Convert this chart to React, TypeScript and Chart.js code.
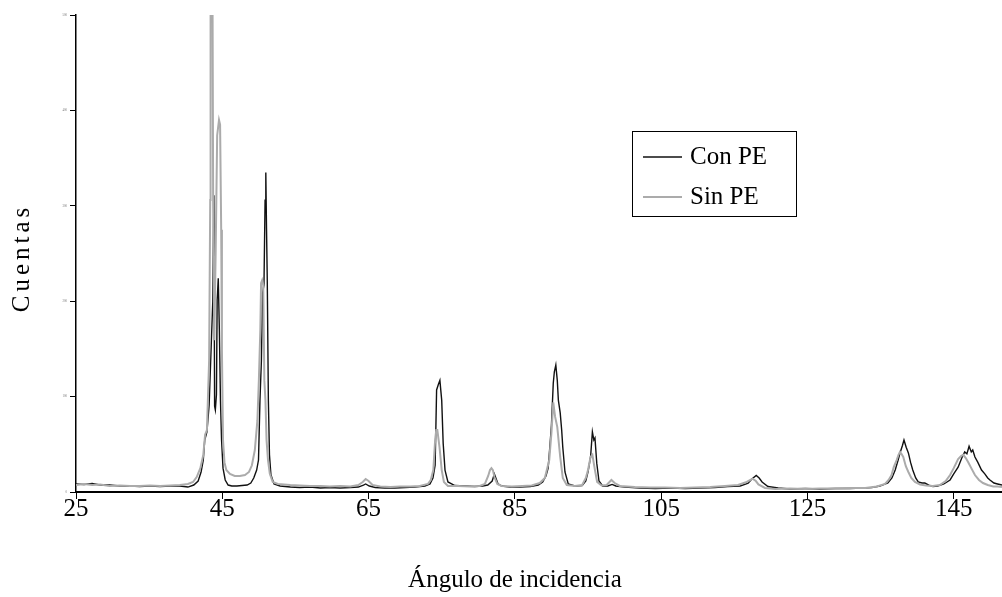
import React, { useEffect, useRef } from 'react';
import { Chart, registerables } from 'chart.js';

Chart.register(...registerables);

// ---- data (angle in degrees, counts in arbitrary units) ----
const conAngle = [
  25.0, 26.1, 27.2, 28.3, 29.6, 31.0, 32.4, 33.7, 35.1, 36.5, 37.9, 39.2, 40.3, 41.1, 41.7, 42.1, 42.4, 42.6, 42.9, 43.2,
  43.7, 43.85, 43.95, 44.05, 44.2, 44.3, 44.45, 44.6, 44.75, 44.9, 45.1, 45.4, 45.8, 46.3, 47.0, 47.7, 48.4, 48.9, 49.3, 49.7,
  49.95, 50.15, 50.35, 50.5, 50.7, 50.85, 50.95, 51.05, 51.15, 51.3, 51.45, 51.65, 52.07, 52.9, 54.3, 55.6, 57.0, 58.4, 59.7, 61.1,
  62.5, 63.6, 64.3, 64.6, 65.1, 65.9, 67.2, 68.6, 70.0, 71.3, 72.7, 73.4, 73.8, 74.1, 74.3, 74.55, 74.75, 75.0, 75.2, 75.45,
  75.85, 76.8, 78.2, 79.5, 80.6, 81.3, 81.9, 82.2, 82.4, 82.7, 83.2, 84.3, 85.7, 87.1, 88.2, 88.8, 89.25, 89.55, 89.8, 90.0,
  90.25, 90.4, 90.6, 90.8, 90.95, 91.2, 91.4, 91.55, 91.85, 92.3, 93.2, 94.2, 94.7, 95.0, 95.35, 95.6, 95.8, 95.95, 96.2, 96.5,
  97.0, 97.7, 98.3, 98.8, 100.05, 102.1, 104.2, 106.2, 108.3, 110.3, 112.35, 114.1, 115.8, 116.9, 117.4, 118.0, 118.4, 118.8, 119.6, 121.0,
  122.6, 124.7, 126.7, 128.8, 130.8, 132.5, 133.8, 134.9, 136.0, 136.55, 137.0, 137.4, 137.7, 138.0, 138.2, 138.5, 138.8, 139.1, 139.4, 139.8,
  140.15, 140.65, 141.05, 141.6, 142.15, 142.8, 143.65, 144.5, 145.0, 145.6, 146.1, 146.5, 146.8, 147.1, 147.4, 147.6, 147.9, 148.3, 148.8, 149.25,
  149.65, 149.95, 150.5, 151.0, 151.6,
];
const conCounts = [
  8.4, 7.9, 8.9, 7.3, 7.3, 6.3, 6.3, 5.8, 6.3, 5.8, 6.3, 6.3, 5.2, 7.3, 11.5, 21, 33.5, 54.5, 63, 91,
  200, 311, 90, 86, 102, 201, 224, 170, 96, 54.5, 25, 12.6, 7.3, 6.3, 6.3, 6.8, 7.3, 9.4, 14.7, 23,
  33.5, 96, 138, 208, 217, 306, 335, 275, 222, 96, 39, 18, 8.4, 6.3, 5.2, 4.7, 5.2, 4.2, 4.7, 4.2,
  4.7, 5.2, 7.3, 8.4, 6.3, 4.7, 4.2, 4.2, 4.7, 5.2, 6.3, 8.4, 14.7, 28, 107, 113, 117, 96, 51, 23,
  10.5, 6.8, 6.3, 5.8, 6.3, 7.3, 11.5, 19, 14.7, 8.4, 6.3, 5.2, 5.2, 5.8, 7.3, 10.5, 16.8, 25, 49, 70,
  114, 126, 133, 117, 96, 83, 65, 47, 21, 8.4, 6.3, 6.8, 11.5, 21, 36.7, 63, 54.5, 56.6, 30, 11.5,
  6.3, 6.3, 7.9, 6.3, 5.2, 4.2, 3.7, 4.2, 3.7, 4.2, 4.7, 5.8, 6.3, 9.4, 13.6, 17.3, 14.7, 10.5, 5.8, 4.2,
  3.1, 3.7, 3.1, 3.7, 3.7, 4.2, 4.7, 6.3, 9.4, 14.7, 23, 33.5, 42, 49, 54.5, 47, 41, 31, 23, 14.7,
  10.5, 9.4, 9.4, 7.3, 5.8, 6.3, 8.4, 12.6, 19, 26, 35.6, 42, 40, 48, 42, 44, 36.7, 31, 23, 19,
  14.7, 12.6, 9.4, 8.4, 7.3,
];

const sinAngle = [
  25.0, 26.1, 27.2, 28.3, 29.6, 31.0, 32.4, 33.7, 35.1, 36.5, 37.9, 39.2, 40.3, 41.0, 41.5, 42.0, 42.4, 42.65, 42.9, 43.2,
  43.35, 43.4, 43.65, 43.75, 43.9, 44.1, 44.3, 44.55, 44.7, 44.85, 44.95, 45.1, 45.3, 45.55, 46.05, 46.7, 47.4, 48.1, 48.65, 49.05,
  49.45, 49.8, 50.0, 50.2, 50.3, 50.45, 50.6, 50.75, 50.9, 51.05, 51.25, 51.5, 51.9, 52.6, 54.3, 55.6, 57.0, 58.4, 59.7, 61.1,
  62.5, 63.6, 64.2, 64.6, 65.0, 65.55, 66.6, 68.0, 69.3, 70.7, 72.0, 73.1, 73.5, 73.85, 74.1, 74.25, 74.4, 74.7, 75.0, 75.3,
  75.85, 77.2, 78.9, 80.2, 80.9, 81.35, 81.6, 81.8, 82.0, 82.2, 82.6, 83.2, 84.6, 86.0, 87.3, 88.4, 89.1, 89.7, 90.0, 90.25,
  90.5, 90.8, 91.2, 91.55, 92.1, 93.2, 94.2, 94.7, 95.0, 95.35, 95.6, 95.95, 96.25, 96.85, 97.55, 98.2, 98.65, 99.35, 101.4, 103.5,
  105.5, 107.6, 109.6, 111.7, 113.7, 115.5, 116.7, 117.5, 117.95, 118.3, 119.2, 120.6, 122.6, 124.7, 126.7, 128.8, 130.8, 132.9, 134.5, 135.6,
  136.1, 136.5, 136.8, 137.2, 137.45, 137.65, 137.85, 138.1, 138.45, 138.8, 139.2, 139.7, 140.4, 141.2, 142.15, 143.1, 143.9, 144.5, 145.0, 145.6,
  146.0, 146.3, 146.65, 147.0, 147.4, 147.9, 148.45, 149.0, 149.65, 150.4, 151.0, 151.6,
];
const sinCounts = [
  7.3, 8.4, 7.3, 7.9, 6.3, 6.8, 6.3, 6.3, 6.8, 6.3, 6.8, 7.3, 8.4, 10.5, 15.7, 25, 38.8, 60, 65, 138,
  306, 560, 560, 306, 159, 254, 374, 390, 385, 275, 149, 54.5, 31, 23, 19, 16.8, 16.8, 17.8, 21, 28,
  44, 75, 117, 170, 219, 222, 217, 117, 96, 54.5, 33.5, 19, 10.5, 8.4, 7.3, 6.8, 6.3, 6.3, 5.8, 6.3,
  5.8, 7.3, 10.5, 13.6, 11.5, 7.3, 5.8, 5.2, 5.8, 5.8, 6.3, 8.4, 12.6, 23, 54.5, 65, 65, 47, 23, 10.5,
  6.3, 6.3, 5.8, 6.3, 8.4, 16.8, 23, 25, 23, 15.7, 8.4, 6.3, 5.8, 6.3, 6.8, 9.4, 14.7, 33.5, 62, 94,
  79, 68, 36.7, 14.7, 7.3, 6.3, 7.3, 14.7, 23, 36.7, 39, 23, 10.5, 6.8, 7.3, 12.6, 9.4, 6.3, 5.2, 4.7,
  4.7, 4.2, 4.7, 5.2, 6.3, 7.3, 10.5, 14, 11.5, 7.9, 4.2, 3.1, 3.7, 3.1, 3.7, 3.7, 4.2, 4.2, 5.8, 8.4,
  12.6, 17.8, 26, 33.5, 39, 42, 40, 36.7, 27, 21, 14.7, 10.5, 7.9, 6.8, 6.3, 7.3, 11.5, 17.8, 25, 34.6,
  37.7, 39, 35.6, 31, 25, 17.8, 12.6, 9.4, 7.3, 5.8, 5.8, 5.2,
];

const xTicks = [25, 45, 65, 85, 105, 125, 145];
const yTicks = [0, 100, 200, 300, 400, 500];
const seriesLabels = ['Con PE', 'Sin PE'];
const xTitle = 'Ángulo de incidencia';
const yTitle = 'Cuentas';

const SERIF = "'Liberation Serif', 'Times New Roman', serif";
const BLACK = '#111111';
const GRAY = '#ababab';

const decorPlugin = {
  id: 'decor',
  afterDraw(chart: any) {
    const ctx: CanvasRenderingContext2D = chart.ctx;
    ctx.save();
    // Axis titles
    ctx.fillStyle = '#000';
    ctx.font = `25px ${SERIF}`;
    ctx.textAlign = 'center';
    ctx.textBaseline = 'middle';
    ctx.fillText(xTitle, 515, 580);

    ctx.save();
    ctx.translate(22, 260);
    ctx.rotate(-Math.PI / 2);
    (ctx as any).letterSpacing = '4px';
    ctx.fillText(yTitle, 2, 0);
    ctx.restore();

    // Legend box
    const bx = 632, by = 131, bw = 164, bh = 85;
    ctx.fillStyle = '#fff';
    ctx.fillRect(bx, by, bw, bh);
    ctx.strokeStyle = '#000';
    ctx.lineWidth = 1;
    ctx.strokeRect(bx + 0.5, by + 0.5, bw, bh);

    const ds = chart.data.datasets;
    const order = [1, 0]; // Con PE first, Sin PE second
    order.forEach((idx, i) => {
      const d = ds[idx];
      const ly = 157 + i * 40;
      ctx.strokeStyle = d.borderColor;
      ctx.lineWidth = idx === 1 ? 1.5 : 2;
      ctx.beginPath();
      ctx.moveTo(643, ly);
      ctx.lineTo(682, ly);
      ctx.stroke();
      ctx.fillStyle = '#000';
      ctx.font = `25px ${SERIF}`;
      ctx.textAlign = 'left';
      ctx.textBaseline = 'middle';
      ctx.fillText(d.label, 690, ly);
    });
    ctx.restore();
  },
};

export default function App() {
  const canvasRef = useRef<HTMLCanvasElement | null>(null);

  useEffect(() => {
    if (!canvasRef.current) return;
    const chart = new Chart(canvasRef.current, {
      type: 'line',
      data: {
        datasets: [
          {
            label: seriesLabels[1],
            data: sinAngle.map((a, i) => ({ x: a, y: sinCounts[i] })),
            borderColor: GRAY,
            borderWidth: 2,
            pointRadius: 0,
            tension: 0,
            fill: false,
            order: 0,
          },
          {
            label: seriesLabels[0],
            data: conAngle.map((a, i) => ({ x: a, y: conCounts[i] })),
            borderColor: BLACK,
            borderWidth: 1.4,
            pointRadius: 0,
            tension: 0,
            fill: false,
            order: 1,
          },
        ],
      },
      options: {
        animation: false,
        responsive: true,
        maintainAspectRatio: false,
        layout: { padding: { top: 15, left: 0, right: 0, bottom: 0 } },
        plugins: {
          legend: { display: false },
          tooltip: { enabled: false },
          title: { display: false },
        },
        scales: {
          x: {
            type: 'linear',
            min: 25,
            max: 151.6,
            afterBuildTicks: (scale: any) => {
              scale.ticks = xTicks.map((v) => ({ value: v }));
            },
            afterFit: (scale: any) => {
              scale.height = 105;
            },
            ticks: {
              color: '#000',
              font: { family: SERIF, size: 25 },
              padding: -5,
              maxRotation: 0,
              autoSkip: false,
              callback: (v: any) => String(v),
            },
            grid: {
              display: true,
              drawOnChartArea: false,
              drawTicks: true,
              tickLength: 7,
              color: '#000',
              lineWidth: 1,
            },
            border: { display: true, color: '#000', width: 2 },
          },
          y: {
            type: 'linear',
            min: 0,
            max: 500,
            afterBuildTicks: (scale: any) => {
              scale.ticks = yTicks.map((v) => ({ value: v }));
            },
            afterFit: (scale: any) => {
              scale.width = 76;
            },
            ticks: {
              color: '#777',
              font: { family: SERIF, size: 3 },
              padding: 3,
              callback: (v: any) => String(v),
            },
            grid: {
              display: true,
              drawOnChartArea: false,
              drawTicks: true,
              tickLength: 6,
              color: '#000',
              lineWidth: 1,
            },
            border: { display: true, color: '#000', width: 1.5 },
          },
        },
      },
      plugins: [decorPlugin],
    });
    return () => chart.destroy();
  }, []);

  return (
    <div style={{ position: 'absolute', left: 0, top: 0, width: 1002, height: 597, background: '#fff' }}>
      <canvas ref={canvasRef} />
    </div>
  );
}
